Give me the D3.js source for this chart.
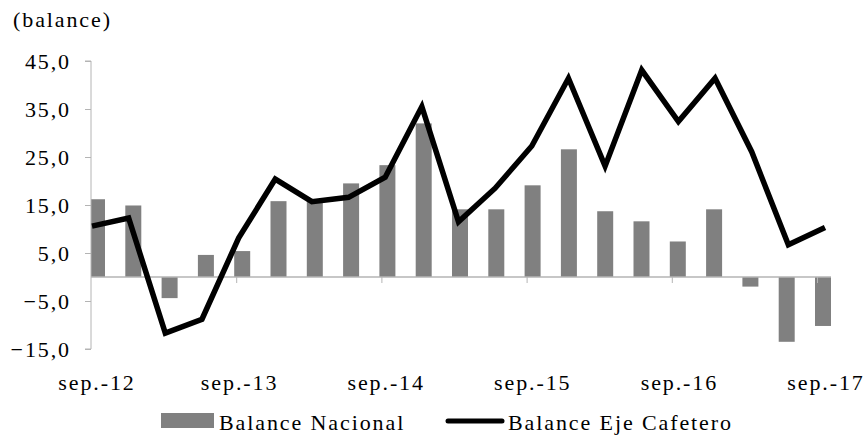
<!DOCTYPE html>
<html>
<head>
<meta charset="utf-8">
<script src="https://cdn.jsdelivr.net/npm/d3@7"></script>
<style>
  body { margin: 0; background: #fff; }
</style>
</head>
<body>
<div id="chart"></div>
<script>
// quarterly data, sep-12 .. sep-17
const quarters = ["sep-12","dic-12","mar-13","jun-13","sep-13","dic-13","mar-14","jun-14",
  "sep-14","dic-14","mar-15","jun-15","sep-15","dic-15","mar-16","jun-16",
  "sep-16","dic-16","mar-17","jun-17","sep-17"];
const nacional = [16.2, 14.9, -4.4, 4.6, 5.4, 15.8, 16.0, 19.5, 23.3, 32.0, 14.1, 14.1,
  19.1, 26.6, 13.7, 11.6, 7.4, 14.1, -2.0, -13.5, -10.2];
const cafetero = [10.6, 12.3, -11.7, -8.8, 8.1, 20.4, 15.7, 16.6, 20.8, 35.5, 11.5, 18.5,
  27.3, 41.4, 23.1, 43.1, 32.4, 41.4, 26.1, 6.7, 10.3];
const yTicks = [-15, -5, 5, 15, 25, 35, 45];
const xLabelIdx = [0, 4, 8, 12, 16, 20];
const xLabels = ["sep.-12", "sep.-13", "sep.-14", "sep.-15", "sep.-16", "sep.-17"];

const W = 865, H = 435;
const svg = d3.select("#chart").append("svg").attr("width", W).attr("height", H);

const axisColor = "#b4b4b4";
const fontSize = "22px";
const font = "'Liberation Serif', 'Times New Roman', serif";
const spacing = "1.9px";

let y = d3.scaleLinear().domain([-15, 45]).range([349, 61]);
let xBar = d3.scalePoint().domain(quarters).range([97, 823]);
let xLine = d3.scalePoint().domain(quarters).range([92, 825]);
const barW = 16;

function styleText(sel) {
  sel.style("font-family", font).style("font-size", fontSize)
    .style("letter-spacing", spacing).style("fill", "#000");
}

// unit label
svg.append("text").attr("x", 13).attr("y", 27).call(styleText).text("(balance)");

// bars
svg.append("defs").append("clipPath").attr("id", "plotclip")
  .append("rect").attr("x", 91).attr("y", 0).attr("width", W).attr("height", H);

svg.append("g").attr("clip-path", "url(#plotclip)")
  .selectAll("rect").data(nacional).join("rect")
  .attr("x", (d, i) => xBar(quarters[i]) - barW / 2)
  .attr("width", barW)
  .attr("y", d => y(Math.max(0, d)))
  .attr("height", d => Math.abs(y(d) - y(0)))
  .attr("fill", "#808080");

// y axis
let yAxis = svg.append("g").attr("transform", "translate(91,0)")
  .call(d3.axisLeft(y).tickValues(yTicks).tickSize(6).tickPadding(14)
    .tickFormat(d => d3.format(".1f")(d).replace(".", ",")));
yAxis.attr("font-family", null).attr("font-size", null);
yAxis.select(".domain").attr("stroke", axisColor).attr("d", "M-6," + y(-15) + "H0V" + y(45) + "H-6");
yAxis.selectAll(".tick line").attr("stroke", axisColor);
yAxis.selectAll(".tick text").call(styleText);

// x axis at zero
svg.append("line").attr("x1", 91).attr("x2", 831)
  .attr("y1", y(0)).attr("y2", y(0))
  .attr("stroke", axisColor).attr("stroke-width", 1.5);
svg.selectAll(".xtick").data(xLabelIdx.slice(1)).join("line")
  .attr("class", "xtick")
  .attr("x1", i => xBar(quarters[i]) - 5.5).attr("x2", i => xBar(quarters[i]) - 5.5)
  .attr("y1", y(0)).attr("y2", y(0) + 6)
  .attr("stroke", axisColor);

// x labels
svg.selectAll(".xlab").data(xLabelIdx).join("text")
  .attr("class", "xlab")
  .attr("x", (i, k) => xLine(quarters[i]) + (k === 0 ? 5 : 1))
  .attr("y", 390)
  .attr("text-anchor", "middle")
  .call(styleText)
  .text((i, k) => xLabels[k]);

// line
svg.append("path").datum(cafetero)
  .attr("fill", "none").attr("stroke", "#000").attr("stroke-width", 5.5)
  .attr("stroke-linejoin", "miter")
  .attr("d", d3.line().x((d, i) => xLine(quarters[i])).y(d => y(d)));

// legend
let leg = svg.append("g");
leg.append("rect").attr("x", 161).attr("y", 413).attr("width", 53).attr("height", 15).attr("fill", "#808080");
leg.append("text").attr("x", 219).attr("y", 430).call(styleText).text("Balance Nacional");
leg.append("line").attr("x1", 448).attr("x2", 502).attr("y1", 421).attr("y2", 421)
  .attr("stroke", "#000").attr("stroke-width", 5).attr("stroke-linecap", "round");
leg.append("text").attr("x", 508).attr("y", 430).call(styleText).text("Balance Eje Cafetero");
</script>
</body>
</html>
